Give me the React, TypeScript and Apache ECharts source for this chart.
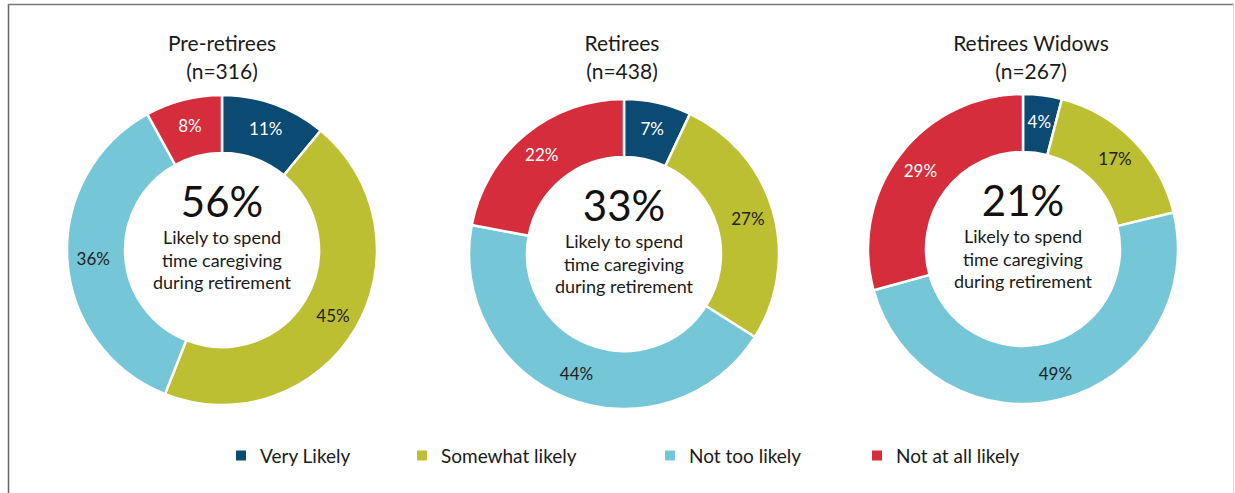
import React, { useEffect, useRef } from "react";
import * as echarts from "echarts";

const categories = ["Very Likely", "Somewhat likely", "Not too likely", "Not at all likely"];
const colors = ["#0b4a73", "#bdbf33", "#75c6d6", "#d52d3b"];
const labelColors = ["#ffffff", "#222222", "#222222", "#ffffff"];

const groupTitles = ["Pre-retirees", "Retirees", "Retirees Widows"];
const groupNs = ["(n=316)", "(n=438)", "(n=267)"];
const likelyTotals = ["56%", "33%", "21%"];
const caption = ["Likely to spend", "time caregiving", "during retirement"];

const preRetirees = [11, 45, 36, 8];
const retirees = [7, 27, 44, 22];
const widows = [4, 17, 49, 29];
const seriesValues = [preRetirees, retirees, widows];

const centers: [number, number][] = [
  [222, 250],
  [624, 254],
  [1023, 249],
];
const titleX = [222, 622, 1031];
const legendLeft = [234, 415, 663, 870];

const FONT = "Lato, 'Noto Sans', sans-serif";

export default function App() {
  const ref = useRef<HTMLDivElement>(null);
  useEffect(() => {
    if (!ref.current) return;
    const chart = echarts.init(ref.current, undefined, { renderer: "svg" });

    const series = seriesValues.map((vals, si) => ({
      type: "pie",
      name: groupTitles[si],
      center: centers[si],
      radius: [97, 155],
      startAngle: 90,
      clockwise: true,
      avoidLabelOverlap: false,
      silent: true,
      itemStyle: { borderColor: "#ffffff", borderWidth: 2.5 },
      label: {
        show: true,
        position: "inside",
        formatter: "{c}%",
        fontSize: 17,
        fontFamily: FONT,
      },
      labelLine: { show: false },
      data: vals.map((v, i) => ({
        name: categories[i],
        value: v,
        itemStyle: { color: colors[i] },
        label: { color: labelColors[i] },
      })),
    }));

    const graphics: any[] = [];
    graphics.push({ type: "line", shape: { x1: 8.5, y1: 4, x2: 8.5, y2: 493 }, style: { stroke: "#666", lineWidth: 1.5 } });
    graphics.push({ type: "line", shape: { x1: 8, y1: 4.5, x2: 1234, y2: 4.5 }, style: { stroke: "#777", lineWidth: 1.5 } });
    graphics.push({ type: "line", shape: { x1: 1233.5, y1: 4, x2: 1233.5, y2: 493 }, style: { stroke: "#dddddd", lineWidth: 1 } });

    centers.forEach((c, i) => {
      graphics.push({
        type: "text",
        x: titleX[i],
        y: 42,
        style: { text: groupTitles[i], font: `21px ${FONT}`, fill: "#1a1a1a", textAlign: "center", textVerticalAlign: "middle" },
      });
      graphics.push({
        type: "text",
        x: titleX[i],
        y: 70,
        style: { text: groupNs[i], font: `21px ${FONT}`, fill: "#1a1a1a", textAlign: "center", textVerticalAlign: "middle" },
      });
      graphics.push({
        type: "text",
        x: c[0],
        y: c[1] - 49,
        style: { text: likelyTotals[i], font: `42px ${FONT}`, fill: "#111", textAlign: "center", textVerticalAlign: "middle" },
      });
      caption.forEach((line, li) => {
        graphics.push({
          type: "text",
          x: c[0],
          y: c[1] - 13 + li * 22.5,
          style: { text: line, font: `18px ${FONT}`, fill: "#1a1a1a", textAlign: "center", textVerticalAlign: "middle" },
        });
      });
    });

    const legends = categories.map((name, i) => ({
      data: [name],
      left: legendLeft[i],
      top: 446,
      padding: 0,
      icon: "rect",
      itemWidth: 12,
      itemHeight: 12,
      selectedMode: false,
      textStyle: { fontSize: 19, fontFamily: FONT, color: "#1a1a1a", padding: [0, 0, 0, 8] },
    }));

    chart.setOption({
      animation: false,
      backgroundColor: "#ffffff",
      legend: legends,
      series,
      graphic: graphics,
    });
    return () => chart.dispose();
  }, []);
  return (
    <div
      ref={ref}
      style={{ position: "absolute", left: 0, top: 0, width: 1235, height: 493 }}
    />
  );
}
